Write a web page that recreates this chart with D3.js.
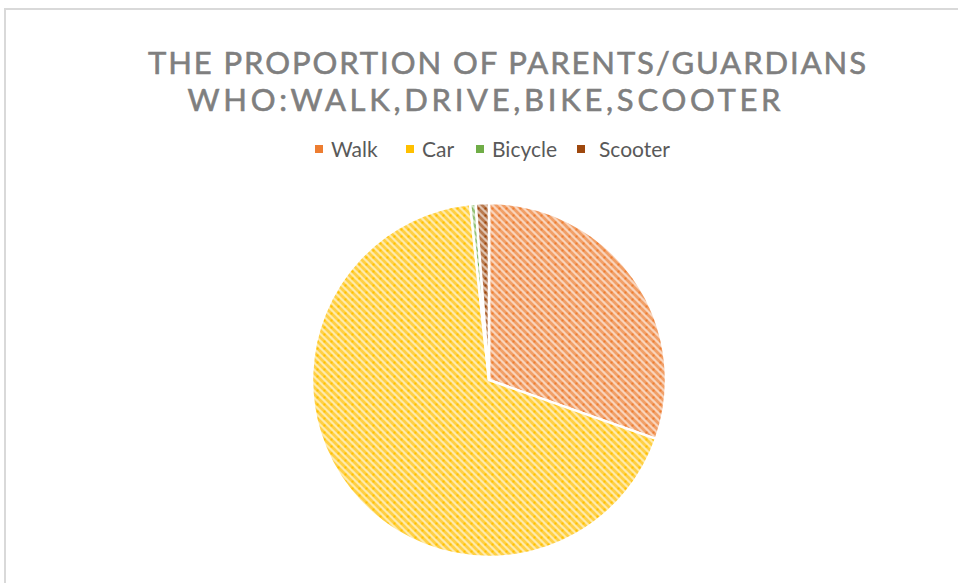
<!DOCTYPE html>
<html>
<head>
<meta charset="utf-8">
<script src="https://cdn.jsdelivr.net/npm/d3@7"></script>
<style>
  body { margin: 0; background: #fff; }
  svg { display: block; font-family: Lato, "Open Sans", sans-serif; }
</style>
</head>
<body>
<svg id="chart"></svg>
<script>
const WIDTH = 958;
const HEIGHT = 583;

const categories = ["Walk", "Car", "Bicycle", "Scooter"];
const values = [30.4, 67.9, 0.5, 1.2];
const colors = ["#ED7D31", "#FFC000", "#70AD47", "#9E480E"];
const titleLines = ["THE PROPORTION OF PARENTS/GUARDIANS", "WHO:WALK,DRIVE,BIKE,SCOOTER"];

const svg = d3.select("#chart").attr("width", WIDTH).attr("height", HEIGHT);

// chart area border (runs off right and bottom)
svg.append("path")
  .attr("d", `M5,${HEIGHT + 5} V9 H${WIDTH + 5}`)
  .attr("fill", "none")
  .attr("stroke", "#d9d9d9")
  .attr("stroke-width", 2);

// hatch patterns, one per slice
const defs = svg.append("defs");
categories.forEach((c, i) => {
  const p = defs.append("pattern")
    .attr("id", "pat" + i)
    .attr("patternUnits", "userSpaceOnUse")
    .attr("width", 7)
    .attr("height", 7);
  p.append("rect").attr("width", 7).attr("height", 7)
    .attr("fill", colors[i]).attr("fill-opacity", 0.33);
  p.append("path")
    .attr("d", "M-1,-1 L8,8 M-1,6 L1,8 M6,-1 L8,1")
    .attr("stroke", colors[i]).attr("stroke-opacity", 0.6)
    .attr("stroke-width", 2.8);
  p.append("rect").attr("x", 2.5).attr("y", 2.5).attr("width", 2).attr("height", 2)
    .attr("fill", colors[i]);
});

// title
const titleX = [507, 484];
const titleLen = [718, 593];
svg.append("g")
  .selectAll("text")
  .data(titleLines)
  .join("text")
  .attr("x", (d, i) => titleX[i])
  .attr("y", (d, i) => 74 + i * 37)
  .attr("text-anchor", "middle")
  .attr("font-size", 31)
  .attr("font-weight", 400)
  .attr("fill", "#7f7f7f")
  .attr("stroke", "#7f7f7f")
  .attr("stroke-width", 0.6)
  .attr("textLength", (d, i) => titleLen[i])
  .attr("lengthAdjust", "spacing")
  .text(d => d);

// legend
const legendX = [319, 410, 480, 581];
const legend = svg.append("g")
  .selectAll("g")
  .data(categories)
  .join("g")
  .attr("transform", (d, i) => `translate(${legendX[i]},149)`);
legend.append("rect")
  .attr("x", -4).attr("y", -4)
  .attr("width", 8).attr("height", 8)
  .attr("fill", (d, i) => colors[i]);
legend.append("text")
  .attr("x", (d, i) => i === 3 ? 18 : 12)
  .attr("y", 8)
  .attr("font-size", 21)
  .attr("fill", "#595959")
  .text(d => d);

// pie
const radius = 177;
const pie = d3.pie().sort(null).value(d => d)(values);
const arc = d3.arc().innerRadius(0).outerRadius(radius);

svg.append("g")
  .attr("transform", "translate(489,380)")
  .selectAll("path")
  .data(pie)
  .join("path")
  .attr("d", arc)
  .attr("fill", (d, i) => `url(#pat${i})`)
  .attr("stroke", "#fff")
  .attr("stroke-width", 2.5)
  .attr("stroke-linejoin", "round");
</script>
</body>
</html>
